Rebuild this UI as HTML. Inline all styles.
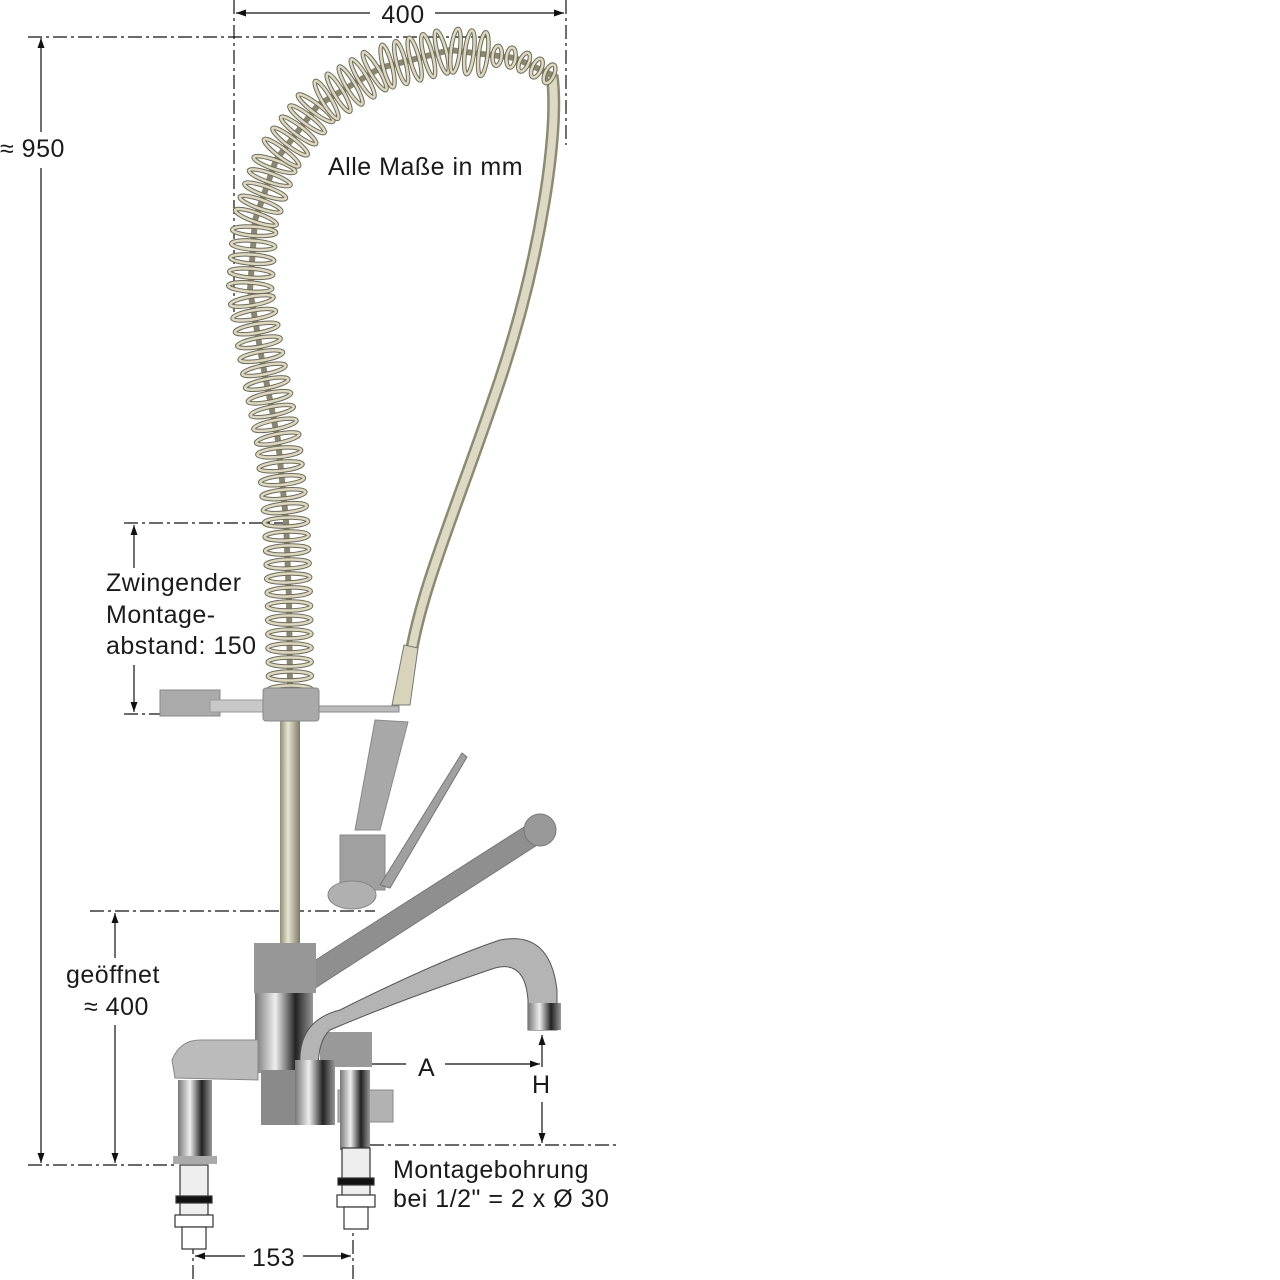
<!DOCTYPE html>
<html><head><meta charset="utf-8"><style>
body{margin:0;background:#fff}
svg{display:block}
text{font-family:"Liberation Sans",sans-serif;fill:#1a1a1a;font-size:25px;letter-spacing:0.5px}
</style></head><body>
<svg id="s" width="1280" height="1280" viewBox="0 0 1280 1280" xmlns="http://www.w3.org/2000/svg">
<defs>
<marker id="ar" viewBox="0 0 10 10" refX="10" refY="5" markerWidth="10" markerHeight="10" orient="auto-start-reverse" markerUnits="userSpaceOnUse"><path d="M0,1.5 L10,5 L0,8.5 Z" fill="#111"/></marker>
<linearGradient id="pole" x1="0" x2="1"><stop offset="0" stop-color="#8f8c76"/><stop offset=".4" stop-color="#e8e5d2"/><stop offset="1" stop-color="#7c7a66"/></linearGradient>
<linearGradient id="chr" x1="0" x2="1"><stop offset="0" stop-color="#777"/><stop offset=".35" stop-color="#eee"/><stop offset=".7" stop-color="#222"/><stop offset="1" stop-color="#999"/></linearGradient>
</defs>
<g stroke="#111" stroke-width="1.2" fill="none">
<g stroke-dasharray="14,4,3,4">
<line x1="234" y1="0" x2="234" y2="312"/>
<line x1="566" y1="0" x2="566" y2="145"/>
<line x1="28" y1="37" x2="490" y2="37"/>
<line x1="124" y1="523" x2="290" y2="523"/>
<line x1="124" y1="714" x2="160" y2="714"/>
<line x1="90" y1="911" x2="375" y2="911"/>
<line x1="28" y1="1165" x2="175" y2="1165"/>
<line x1="370" y1="1145" x2="620" y2="1145"/>
<line x1="193" y1="1215" x2="193" y2="1280"/>
<line x1="353" y1="1215" x2="353" y2="1280"/>
</g>
<line x1="236" y1="13" x2="370" y2="13" marker-start="url(#ar)"/>
<line x1="435" y1="13" x2="564" y2="13" marker-end="url(#ar)"/>
<line x1="41" y1="38" x2="41" y2="132" marker-start="url(#ar)"/>
<line x1="41" y1="168" x2="41" y2="1163" marker-end="url(#ar)"/>
<line x1="134" y1="525" x2="134" y2="568" marker-start="url(#ar)"/>
<line x1="134" y1="665" x2="134" y2="712" marker-end="url(#ar)"/>
<line x1="115" y1="913" x2="115" y2="958" marker-start="url(#ar)"/>
<line x1="115" y1="1025" x2="115" y2="1163" marker-end="url(#ar)"/>
<line x1="195" y1="1256" x2="245" y2="1256" marker-start="url(#ar)"/>
<line x1="303" y1="1256" x2="351" y2="1256" marker-end="url(#ar)"/>
<line x1="406" y1="1064" x2="318" y2="1064" marker-end="url(#ar)"/>
<line x1="445" y1="1064" x2="540" y2="1064" marker-end="url(#ar)"/>
<line x1="542" y1="1067" x2="542" y2="1035" marker-end="url(#ar)"/>
<line x1="542" y1="1102" x2="542" y2="1143" marker-end="url(#ar)"/>
</g>
<text x="403" y="23" text-anchor="middle">400</text>
<text x="0" y="157">≈ 950</text>
<text x="328" y="175">Alle Maße in mm</text>
<text x="106" y="591">Zwingender</text>
<text x="106" y="623">Montage-</text>
<text x="106" y="654">abstand: 150</text>
<text x="66" y="983">geöffnet</text>
<text x="84" y="1015">≈ 400</text>
<text x="418" y="1076">A</text>
<text x="532" y="1093">H</text>
<text x="393" y="1178">Montagebohrung</text>
<text x="393" y="1207">bei 1/2" = 2 x Ø 30</text>
<text x="252" y="1266">153</text>

<path d="M552,75 C560,130 540,260 500,380 C460,500 420,590 410,660" stroke="#8d8a74" stroke-width="13" fill="none"/>
<path d="M552,75 C560,130 540,260 500,380 C460,500 420,590 410,660" stroke="#ddd9c4" stroke-width="8" fill="none"/>
<path d="M404,645 L418,648 L410,705 L392,705 Z" fill="#d8d4bc" stroke="#777"/>
<g id="coil"></g>
<rect x="280" y="715" width="20" height="240" fill="url(#pole)"/>
<rect x="160" y="690" width="60" height="26" fill="#aaa" stroke="#888"/>
<path d="M210,700 L265,700 L265,712 L210,712Z" fill="#c8c8c8" stroke="#999"/>
<rect x="263" y="688" width="56" height="33" rx="3" fill="#a9a9a9" stroke="#888"/>
<rect x="319" y="706" width="80" height="6" fill="#bbb" stroke="#888"/>
<path d="M375,720 L408,722 L380,830 L355,830 Z" fill="#a8a8a8" stroke="#888"/>
<path d="M340,835 L385,835 L385,890 L340,890 Z" fill="#a0a0a0" stroke="#888"/>
<ellipse cx="352" cy="895" rx="24" ry="14" fill="#b0b0b0" stroke="#888"/>
<path d="M380,885 L462,753 L467,757 L390,888 Z" fill="#a0a0a0" stroke="#777"/>
<path d="M300,970 L535,820 L548,838 L312,990 Z" fill="#8f8f8f" stroke="#777"/>
<circle cx="540" cy="830" r="16" fill="#999" stroke="#777"/>
<rect x="254" y="943" width="62" height="50" fill="#979797"/>
<rect x="255" y="993" width="58" height="80" fill="url(#chr)"/>
<path d="M172,1060 Q180,1040 200,1040 L258,1040 L258,1080 L175,1078 Z" fill="#bbb" stroke="#888"/>
<rect x="178" y="1080" width="34" height="80" fill="url(#chr)"/>
<rect x="173" y="1156" width="44" height="8" fill="#aaa"/>
<rect x="261" y="1070" width="60" height="55" fill="#8a8a8a"/>
<rect x="320" y="1032" width="52" height="35" fill="#999"/>
<path d="M300,1060 Q300,1020 340,1010 Q440,960 500,940 Q550,930 557,990 L557,1030 L528,1030 L528,1000 Q525,960 495,968 Q400,1000 330,1030 Q318,1040 318,1070 Z" fill="#b4b4b4" stroke="#555"/>
<rect x="528" y="1003" width="33" height="27" fill="url(#chr)"/>
<rect x="295" y="1060" width="40" height="65" fill="url(#chr)"/>
<rect x="338" y="1090" width="55" height="32" fill="#b2b2b2" stroke="#888"/>
<rect x="340" y="1070" width="30" height="80" fill="url(#chr)"/>
<g stroke="#333" stroke-width="1.2">
<rect x="180" y="1165" width="28" height="60" fill="#eee"/>
<rect x="176" y="1196" width="36" height="7" fill="#111"/>
<rect x="175" y="1215" width="38" height="12" fill="#fff"/>
<rect x="182" y="1227" width="24" height="22" fill="#fff"/>
<rect x="342" y="1148" width="28" height="50" fill="#eee"/>
<rect x="338" y="1178" width="36" height="7" fill="#111"/>
<rect x="337" y="1195" width="38" height="12" fill="#fff"/>
<rect x="344" y="1207" width="24" height="22" fill="#fff"/>
</g>
</svg>
<script>
var pts=[[290,690],[289,600],[286,520],[278,440],[262,360],[250,290],[255,220],[276,160],[318,105],[380,68],[450,50],[515,58],[552,75]];
var g=document.getElementById('coil'),h='';
var L=[0];for(var i=1;i<pts.length;i++){L.push(L[i-1]+Math.hypot(pts[i][0]-pts[i-1][0],pts[i][1]-pts[i-1][1]));}
var tot=L[L.length-1];
for(var d=0;d<tot;d+=14){var k=1;while(L[k]<d)k++;var t=(d-L[k-1])/(L[k]-L[k-1]);
var x=pts[k-1][0]+t*(pts[k][0]-pts[k-1][0]),y=pts[k-1][1]+t*(pts[k][1]-pts[k-1][1]);
var dx=(pts[k][0]-pts[k-1][0])/(L[k]-L[k-1]),dy=(pts[k][1]-pts[k-1][1])/(L[k]-L[k-1]);
var ang=Math.atan2(dy,dx)*180/Math.PI+90;var r=d>tot-60?10:22;
h+='<ellipse cx="'+x+'" cy="'+y+'" rx="'+r+'" ry="4.5" transform="rotate('+ang+' '+x+' '+y+')" fill="none" stroke="#6d6a58" stroke-width="4.5"/><ellipse cx="'+x+'" cy="'+y+'" rx="'+r+'" ry="4.5" transform="rotate('+ang+' '+x+' '+y+')" fill="none" stroke="#dcd8c2" stroke-width="2.5"/>';}
g.innerHTML='<polyline points="'+pts.join(' ')+'" fill="none" stroke="#8a8772" stroke-width="6"/>'+h;
</script>
</body></html>
